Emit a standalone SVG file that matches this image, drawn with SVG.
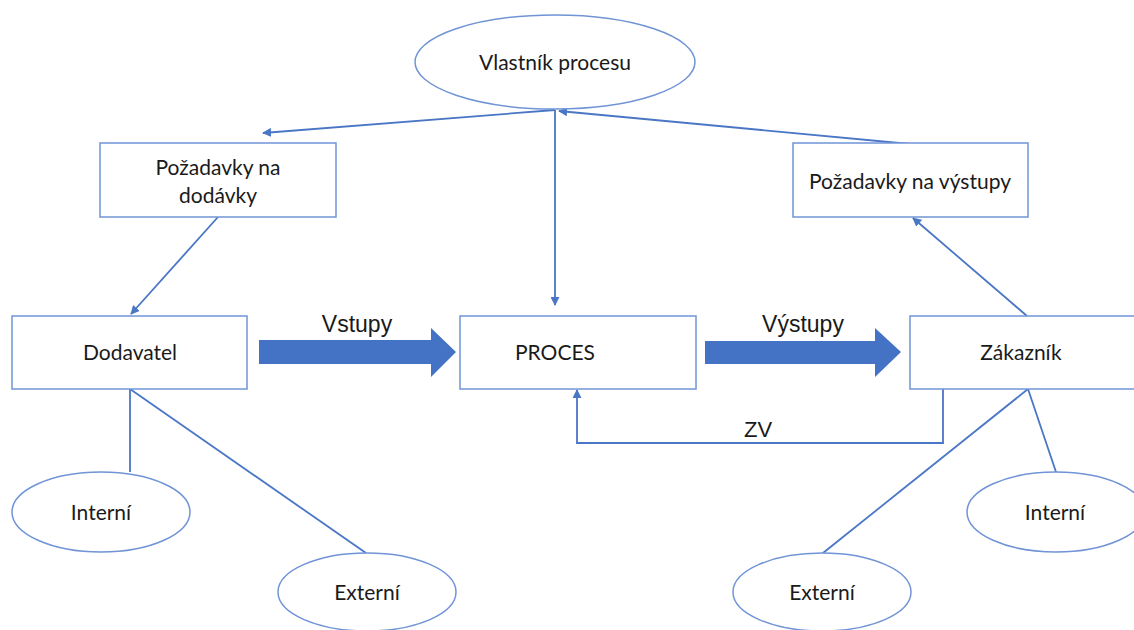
<svg xmlns="http://www.w3.org/2000/svg" width="1134" height="630" viewBox="0 0 1134 630">
  <style>
    .shape { fill: #ffffff; stroke: #7094d6; stroke-width: 1.5; }
    .link { fill: none; stroke: #4a76c6; stroke-width: 1.8; }
    .label { font-family: Lato, "Open Sans", sans-serif; font-size: 21px; fill: #1a1a1a; text-anchor: middle; }
    .flow-label { font-family: "Liberation Sans", Arial, sans-serif; font-size: 23px; fill: #1a1a1a; text-anchor: middle; }
    .big-arrow { fill: #4472c4; }
  </style>
  <defs>
    <marker id="tip" viewBox="0 0 10 10" refX="9" refY="5" markerWidth="5" markerHeight="5" orient="auto" markerUnits="strokeWidth">
      <path d="M0,0 L10,5 L0,10 z" fill="#4a76c6"/>
    </marker>
  </defs>

  <g id="connectors">
    <!-- owner to requirements and process -->
    <line class="link" x1="555" y1="110" x2="263" y2="133" marker-end="url(#tip)"/>
    <line class="link" x1="555" y1="110" x2="555" y2="305" marker-end="url(#tip)"/>
    <line class="link" x1="910" y1="144" x2="559" y2="111" marker-end="url(#tip)"/>
    <!-- requirement links -->
    <line class="link" x1="218" y1="217" x2="131" y2="314" marker-end="url(#tip)"/>
    <line class="link" x1="1027" y1="316" x2="913" y2="218" marker-end="url(#tip)"/>
    <!-- supplier branches -->
    <line class="link" x1="130" y1="389" x2="130" y2="472"/>
    <line class="link" x1="130" y1="389" x2="366" y2="553"/>
    <!-- customer branches -->
    <line class="link" x1="1028" y1="389" x2="823" y2="553"/>
    <line class="link" x1="1028" y1="389" x2="1056" y2="472"/>
    <!-- feedback loop -->
    <polyline class="link" points="943,389 943,443 577,443 577,390" marker-end="url(#tip)"/>
    <!-- flow arrows -->
    <polygon class="big-arrow" points="259,340 431,340 431,328 456,352 431,377 431,364 259,364"/>
    <polygon class="big-arrow" points="705,341 875,341 875,328 901,352 875,377 875,364 705,364"/>
    <text class="flow-label" x="357" y="332">Vstupy</text>
    <text class="flow-label" x="803" y="332">Výstupy</text>
    <text class="flow-label" x="758" y="437" style="font-size:22px">ZV</text>
  </g>

  <g id="vlastnik">
    <ellipse class="shape" cx="555" cy="62" rx="140" ry="47"/>
    <text class="label" x="555" y="70">Vlastník procesu</text>
  </g>

  <g id="pozadavky-dodavky">
    <rect class="shape" x="100" y="143" width="236" height="74"/>
    <text class="label" x="218" y="175">Požadavky na</text>
    <text class="label" x="218" y="203">dodávky</text>
  </g>

  <g id="pozadavky-vystupy">
    <rect class="shape" x="793" y="143" width="235" height="74"/>
    <text class="label" x="910" y="189">Požadavky na výstupy</text>
  </g>

  <g id="dodavatel">
    <rect class="shape" x="12" y="316" width="235" height="73"/>
    <text class="label" x="130" y="360">Dodavatel</text>
  </g>

  <g id="proces">
    <rect class="shape" x="460" y="316" width="236" height="73"/>
    <text class="label" x="555" y="360">PROCES</text>
  </g>

  <g id="zakaznik">
    <rect class="shape" x="910" y="316" width="236" height="73"/>
    <text class="label" x="1021" y="360">Zákazník</text>
  </g>

  <g id="interni-dodavatel">
    <ellipse class="shape" cx="101" cy="512" rx="89" ry="40"/>
    <text class="label" x="101" y="520">Interní</text>
  </g>

  <g id="externi-dodavatel">
    <ellipse class="shape" cx="367" cy="592" rx="89" ry="39"/>
    <text class="label" x="367" y="600">Externí</text>
  </g>

  <g id="interni-zakaznik">
    <ellipse class="shape" cx="1056" cy="512" rx="89" ry="40"/>
    <text class="label" x="1055" y="520">Interní</text>
  </g>

  <g id="externi-zakaznik">
    <ellipse class="shape" cx="822" cy="592" rx="89" ry="39"/>
    <text class="label" x="822" y="600">Externí</text>
  </g>
</svg>
